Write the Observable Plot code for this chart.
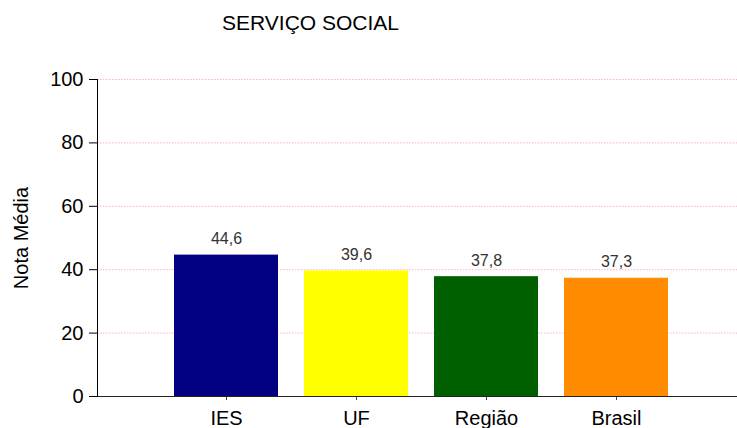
<!DOCTYPE html>
<html>
<head>
<meta charset="utf-8">
<script src="https://cdn.jsdelivr.net/npm/d3@7"></script>
<script src="https://cdn.jsdelivr.net/npm/@observablehq/plot@0.6"></script>
<style>
  body { margin: 0; background: #fff; font-family: "Liberation Sans", Arial, sans-serif; }
  #wrap { position: relative; width: 737px; height: 428px; overflow: hidden; }
  #title { position: absolute; left: 222px; top: 12px; font-size: 21px; line-height: 1; color: #000; white-space: nowrap; }
</style>
</head>
<body>
<div id="wrap">
  <div id="title">SERVIÇO SOCIAL</div>
  <div id="chart"></div>
</div>
<script>
const categories = ["IES", "UF", "Região", "Brasil"];
const values = [44.6, 39.6, 37.8, 37.3];
const colors = ["#000080", "#ffff00", "#006000", "#ff8c00"];
const yTicks = [0, 20, 40, 60, 80, 100];
const yLabel = "Nota Média";

const data = categories.map((c, i) => ({ cat: c, value: values[i] }));
const fmt = v => v.toFixed(1).replace(".", ",");

const chart = Plot.plot({
  width: 737,
  height: 428,
  marginLeft: 97,
  marginRight: 0,
  marginTop: 79,
  marginBottom: 32,
  style: { fontFamily: "'Liberation Sans', Arial, sans-serif", background: "#fff", color: "#000" },
  x: { domain: categories, paddingInner: 0.2, paddingOuter: 0.5615, align: 0.527, axis: null },
  y: { domain: [0, 100], axis: null },
  color: { domain: categories, range: colors },
  marks: [
    Plot.gridY(yTicks.filter(t => t > 0), { stroke: "#ffb0c0", strokeOpacity: 1, strokeDasharray: "1.5,1.5" }),
    Plot.barY(data, { x: "cat", y: "value", fill: "cat" }),
    Plot.text(data, { x: "cat", y: "value", text: d => fmt(d.value), dy: -11, lineAnchor: "bottom", fontSize: 16, fill: "#333" }),
    Plot.axisY({ ticks: yTicks, tickSize: 8, tickPadding: 6, fontSize: 20, label: yLabel, labelArrow: "none", labelAnchor: "center", labelOffset: 84, stroke: "#000" }),
    Plot.axisX({ tickSize: 4, tickPadding: 10, fontSize: 20, label: null, stroke: "#444" }),
    Plot.ruleY([0], { stroke: "#222" }),
    Plot.frame({ anchor: "left", stroke: "#000" })
  ]
});
document.getElementById("chart").appendChild(chart);
</script>
</body>
</html>
